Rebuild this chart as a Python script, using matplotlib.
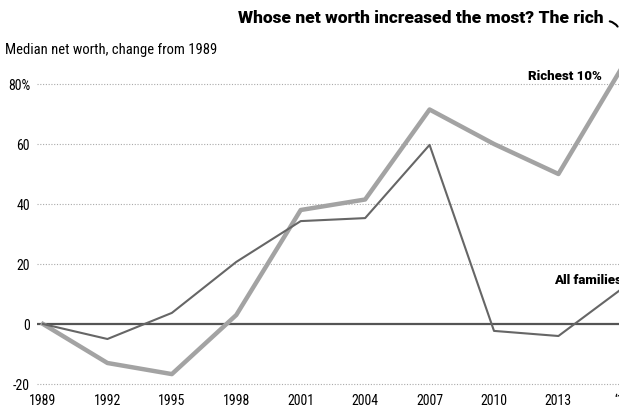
import matplotlib
matplotlib.use("Agg")
import matplotlib.pyplot as plt

# values (% change in median net worth since 1989)
years = [1989, 1992, 1995, 1998, 2001, 2004, 2007, 2010, 2013, 2016]
richest = [0, -13, -16.7, 3, 38, 41.5, 71.5, 60, 50, 86]
all_families = [0, -5, 3.7, 20.7, 34.3, 35.3, 59.7, -2.3, -4, 12]
yticks = [-20, 0, 20, 40, 60, 80]
ytick_labels = ['-20', '0', '20', '40', '60', '80%']
xtick_labels = ['1989', '1992', '1995', '1998', '2001', '2004', '2007', '2010', '2013', '\u201816']

plt.rcParams['font.family'] = ['Roboto Condensed', 'DejaVu Sans']
bold_font = ['Roboto', 'DejaVu Sans']

W, H = 619, 408
fig = plt.figure(figsize=(W / 100, H / 100), dpi=100)
# axes placed in pixel terms, right side runs past the figure edge like the source crop
left, right, top, bottom = 37, 625, 60, 390
ax = fig.add_axes([left / W, (H - bottom) / H, (right - left) / W, (bottom - top) / H])

ax.set_xlim(1988.72, 2016.1)
ax.set_ylim(-22, 88)

for y in yticks:
    if y == 0:
        ax.axhline(0, color='#555555', lw=1.6, zorder=1)
    else:
        ax.axhline(y, color='#aaaaaa', lw=0.8, ls=(0, (1, 1.5)), zorder=1)

ax.plot(years, richest, color='#a3a3a3', lw=3.2, zorder=3)
ax.plot(years, all_families, color='#666666', lw=1.5, zorder=4)

ax.set_xticks(years)
ax.set_xticklabels(xtick_labels, fontsize=10)
ax.set_yticks(yticks)
ax.set_yticklabels(ytick_labels, fontsize=10)
ax.tick_params(length=0, pad=5)
ax.tick_params(axis='x', pad=3)
for s in ax.spines.values():
    s.set_visible(False)

ax.text(2015.0, 80.5, 'Richest 10%', ha='right', va='bottom', fontsize=9.5,
        fontweight='black', family=bold_font)
ax.text(2015.95, 12.5, 'All families', ha='right', va='bottom', fontsize=9.5,
        fontweight='black', family=bold_font)

fig.text(603 / W, 1 - 18 / H, 'Whose net worth increased the most? The rich', ha='right',
         va='center', fontsize=12.5, fontweight='black', family=bold_font)
fig.text(5 / W, 1 - 50 / H, 'Median net worth, change from 1989', ha='left', va='center', fontsize=10.5)

# little curved pointer after the headline
ax.annotate('', xy=(619 / W, 1 - 29 / H), xytext=(607 / W, 1 - 21 / H),
            xycoords='figure fraction', textcoords='figure fraction',
            arrowprops=dict(arrowstyle='-', color='black', lw=1.5,
                            connectionstyle='arc3,rad=-0.3'))

fig.savefig('out.png', dpi=100)
